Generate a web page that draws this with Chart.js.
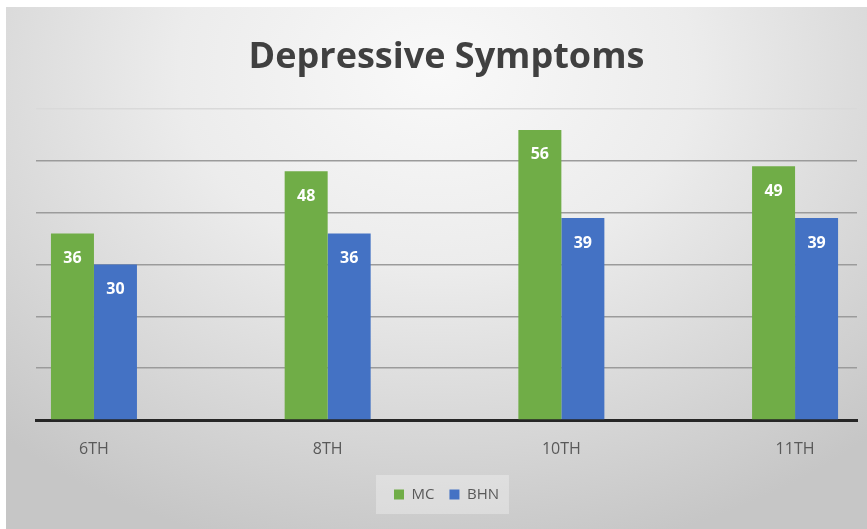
<!DOCTYPE html>
<html>
<head>
<meta charset="utf-8">
<script src="https://cdn.jsdelivr.net/npm/chart.js@4/dist/chart.umd.min.js"></script>
<style>
  html, body { margin: 0; padding: 0; background: #fff; }
  #wrap {
    position: absolute; left: 6px; top: 7px; width: 861px; height: 522px;
    background: radial-gradient(ellipse 75% 95% at 50% 12%, #f9f9f9 0%, #ececec 40%, #d6d6d6 75%, #c6c6c6 100%);
  }
  #c { position: absolute; left: 0; top: 0; }
</style>
</head>
<body>
<div id="wrap"></div>
<canvas id="c" width="867" height="529"></canvas>
<script>
const categories = ["6TH", "8TH", "10TH", "11TH"];
const mcValues = [36, 48, 56, 49];
const bhnValues = [30, 36, 39, 39];
const yTicks = [0, 10, 20, 30, 40, 50, 60];

const toPoints = (vals) => vals.map((v, i) => ({ x: i, y: v }));

// white numbers inside the top of each bar
const barLabels = {
  id: "barLabels",
  afterDatasetsDraw(chart) {
    const ctx = chart.ctx;
    ctx.save();
    ctx.fillStyle = "#ffffff";
    ctx.font = "bold 16px 'Open Sans'";
    ctx.textAlign = "center";
    ctx.textBaseline = "middle";
    chart.data.datasets.forEach((ds, di) => {
      chart.getDatasetMeta(di).data.forEach((bar, i) => {
        ctx.fillText(String(ds.data[i].y), bar.x, bar.y + 25);
      });
    });
    ctx.restore();
  }
};

// faint lighter box behind the legend
const legendBox = {
  id: "legendBox",
  beforeDraw(chart) {
    const boxes = chart.legend.legendHitBoxes;
    if (!boxes || !boxes.length) return;
    const l = Math.min(...boxes.map(b => b.left)) - 18;
    const r = Math.max(...boxes.map(b => b.left + b.width)) + 10;
    const t = boxes[0].top - 12;
    const b = boxes[0].top + boxes[0].height + 12;
    const ctx = chart.ctx;
    ctx.save();
    ctx.fillStyle = "rgba(255,255,255,0.3)";
    ctx.fillRect(l, t, r - l, b - t);
    ctx.restore();
  }
};

new Chart(document.getElementById("c"), {
  type: "bar",
  data: {
    datasets: [
      { label: "MC", data: toPoints(mcValues), backgroundColor: "#70ad47" },
      { label: "BHN", data: toPoints(bhnValues), backgroundColor: "#4472c4" }
    ]
  },
  options: {
    responsive: false,
    animation: false,
    categoryPercentage: 0.368,
    barPercentage: 1.0,
    layout: { padding: { left: 36, right: 10, top: 0, bottom: 17 } },
    plugins: {
      tooltip: { enabled: false },
      title: {
        display: true,
        text: "Depressive Symptoms",
        color: "#404040",
        font: { family: "'Open Sans'", size: 36, weight: "bold", lineHeight: 1.2 },
        padding: { top: 36, bottom: 30 }
      },
      legend: {
        position: "bottom",
        labels: {
          color: "#595959",
          font: { family: "'Open Sans'", size: 15 },
          boxWidth: 10,
          boxHeight: 10,
          padding: 15
        }
      }
    },
    scales: {
      x: {
        type: "linear",
        offset: false,
        min: -0.248,
        max: 3.265,
        grid: { display: false, drawTicks: false, offset: false },
        border: { display: true, color: "#262626", width: 3 },
        afterBuildTicks(scale) {
          scale.ticks = categories.map((c, i) => ({ value: i }));
        },
        afterFit(scale) { scale.height = 52; },
        ticks: {
          autoSkip: false,
          maxRotation: 0,
          padding: 20,
          color: "#595959",
          font: { family: "'Open Sans'", size: 16 },
          callback: (v) => categories[v]
        }
      },
      y: {
        min: yTicks[0],
        max: yTicks[yTicks.length - 1],
        afterBuildTicks(scale) {
          scale.ticks = yTicks.map(v => ({ value: v }));
        },
        afterFit(scale) { scale.width = 0; },
        ticks: { display: false },
        border: { display: false },
        grid: {
          drawTicks: false,
          lineWidth: 1.5,
          color: (ctx) => ctx.tick && ctx.tick.value === 60 ? "#d9d9d9" : "#9b9b9b"
        }
      }
    }
  },
  plugins: [barLabels, legendBox]
});
</script>
</body>
</html>
